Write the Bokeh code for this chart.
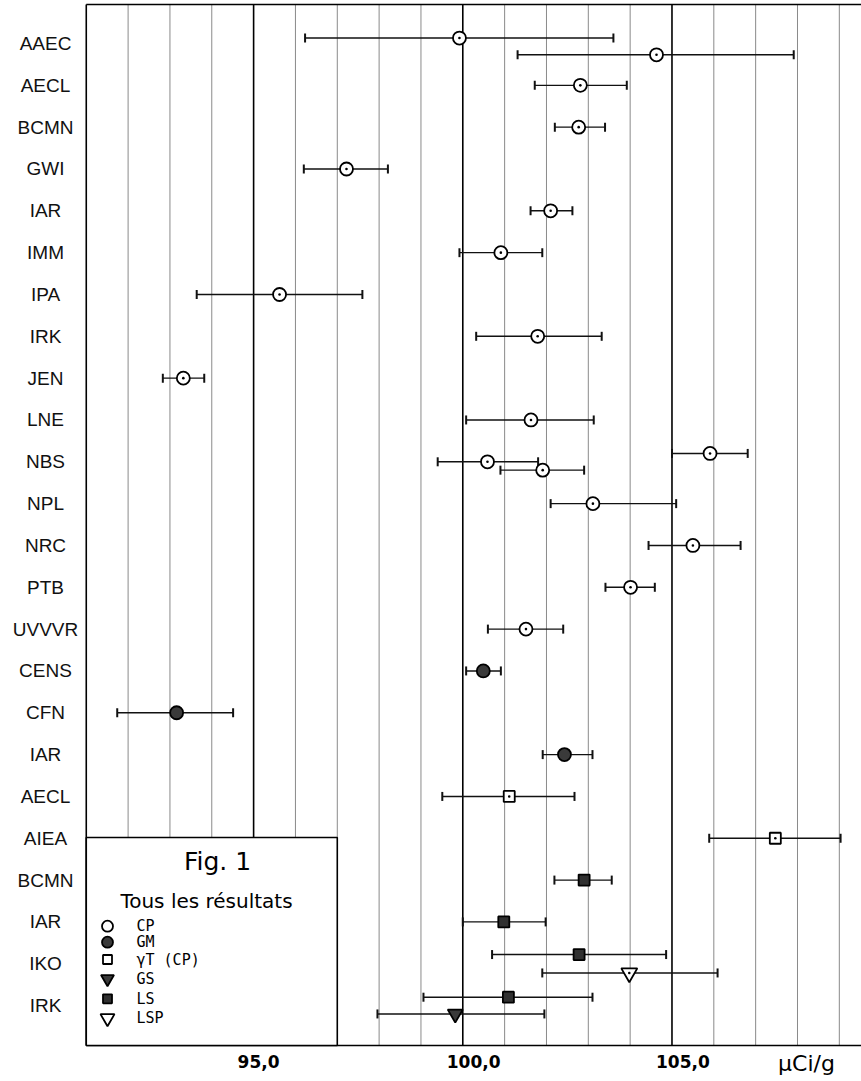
import numpy as np
from bokeh.plotting import figure
from bokeh.models import ColumnDataSource, Range1d
from bokeh.core.properties import value
from bokeh.embed import file_html
from bokeh.resources import INLINE

# Laboratories, one row each, top to bottom
labs = ["AAEC", "AECL", "BCMN", "GWI", "IAR", "IMM", "IPA", "IRK", "JEN", "LNE",
        "NBS", "NPL", "NRC", "PTB", "UVVVR", "CENS", "CFN", "IAR", "AECL", "AIEA",
        "BCMN", "IAR", "IKO", "IRK"]

# Results (µCi/g): row index, method, value, lower and upper limits
res_row = [0, 0, 1, 2, 3, 4, 5, 6, 7, 8, 9, 10, 10, 10, 11, 12, 13, 14,
           15, 16, 17, 18, 19, 20, 21, 22, 22, 23, 23]
res_dodge = [-0.13, 0.27, 0, 0, 0, 0, 0, 0, 0, 0, 0, 0, 0.2, -0.2, 0, 0, 0, 0,
             0, 0, 0, 0, 0, 0, 0, -0.22, 0.22, -0.2, 0.2]
res_method = ["CP"] * 18 + ["GM"] * 3 + ["γT"] * 2 + ["LS", "LS", "LS", "LSP", "LS", "GS"]
res_value = [99.92, 104.63, 102.81, 102.77, 97.22, 102.10, 100.91, 95.62, 101.79, 93.32,
             101.63, 100.59, 101.91, 105.91, 103.11, 105.50, 104.01, 101.51,
             100.49, 93.16, 102.43, 101.11, 107.47,
             102.90, 100.98, 102.78, 103.98, 101.09, 99.82]
res_low = [96.23, 101.31, 101.72, 102.20, 96.20, 101.62, 99.92, 93.64, 100.32, 92.83,
           100.08, 99.40, 100.90, 105.00, 102.10, 104.44, 103.41, 100.60,
           100.08, 91.74, 101.91, 99.51, 105.89,
           102.19, 100.00, 100.70, 101.90, 99.06, 97.96]
res_high = [103.60, 107.91, 103.92, 103.40, 98.21, 102.62, 101.90, 97.60, 103.32, 93.82,
            103.13, 101.80, 102.90, 106.81, 105.10, 106.64, 104.59, 102.40,
            100.91, 94.51, 103.10, 102.67, 109.03,
            103.56, 101.98, 104.86, 106.09, 103.10, 101.95]

# Axis
tick_values = [95.0, 100.0, 105.0]
tick_labels = ["95,0", "100,0", "105,0"]
major_lines = [95, 100, 105]
minor_lines = [92, 93, 94, 96, 97, 98, 99, 101, 102, 103, 104, 106, 107, 108, 109]
x_min = 91.0

# Legend entries
legend_methods = ["CP", "GM", "γT", "GS", "LS", "LSP"]
legend_texts = ["CP", "GM", "γT (CP)", "GS", "LS", "LSP"]

# Marker style per method: marker, size, fill, centre dot
STYLE = {
    "CP":  ("circle", 13, "white", True),
    "GM":  ("circle", 13, "#3a3a3a", False),
    "γT":  ("square", 11, "white", True),
    "LS":  ("square", 11, "#303030", False),
    "LSP": ("inverted_triangle", 16, "white", True),
    "GS":  ("inverted_triangle", 15, "#3a3a3a", False),
}

W, H = 861, 1081
X0, X1 = 88.95, 109.53          # value range across the canvas width
YT, YB = -1.028, 24.815         # row coordinate at top / bottom of the canvas


def px(xp):
    return X0 + xp * (X1 - X0) / W


def py(yp):
    return YT + yp * (YB - YT) / H


p = figure(width=W, height=H, x_range=Range1d(X0, X1), y_range=Range1d(YB, YT),
           x_axis_type=None, y_axis_type=None, output_backend="svg",
           toolbar_location=None, min_border=0, outline_line_color=None,
           background_fill_color="white", border_fill_color="white")

top, bottom = py(4), py(1045)

# vertical grid
p.segment(x0=minor_lines, y0=[top] * len(minor_lines), x1=minor_lines,
          y1=[bottom] * len(minor_lines), line_color="#8a8a8a", line_width=1)
p.segment(x0=major_lines, y0=[top] * len(major_lines), x1=major_lines,
          y1=[bottom] * len(major_lines), line_color="black", line_width=1.6)

# frame
p.segment(x0=[x_min, x_min, x_min], y0=[top, bottom, top],
          x1=[X1, X1, x_min], y1=[top, bottom, bottom],
          line_color="black", line_width=1.6)

# legend panel
p.quad(left=[x_min], right=[97.0], top=[py(837)], bottom=[bottom],
       fill_color="white", line_color="black", line_width=1.6)

# row labels
p.text(x=[px(45)] * len(labs), y=list(range(len(labs))), text=labs,
       text_align="center", text_baseline="middle",
       text_font=value("Liberation Sans"), text_font_size="19px", text_color="#111111")

# results
ys = [r + d for r, d in zip(res_row, res_dodge)]
src = ColumnDataSource(dict(y=ys, v=res_value, lo=res_low, hi=res_high, m=res_method))
p.segment(x0="lo", y0="y", x1="hi", y1="y", source=src, line_color="#111111", line_width=1.4)
p.scatter(x="lo", y="y", source=src, marker="dash", angle=np.pi / 2, size=9,
          line_color="#111111", line_width=2)
p.scatter(x="hi", y="y", source=src, marker="dash", angle=np.pi / 2, size=9,
          line_color="#111111", line_width=2)

for meth, (mk, sz, fc, dot) in STYLE.items():
    idx = [i for i, m in enumerate(res_method) if m == meth]
    if not idx:
        continue
    xs = [res_value[i] for i in idx]
    yy = [ys[i] for i in idx]
    p.scatter(x=xs, y=yy, marker=mk, size=sz, fill_color=fc,
              line_color="black", line_width=1.8)
    if dot:
        p.scatter(x=xs, y=yy, marker="circle", size=2.6,
                  fill_color="black", line_color=None)

# legend contents
p.text(x=[px(217)], y=[py(861)], text=["Fig. 1"], text_align="center",
       text_baseline="middle", text_font=value("DejaVu Sans"), text_font_size="25px")
p.text(x=[px(206)], y=[py(900)], text=["Tous les résultats"], text_align="center",
       text_baseline="middle", text_font=value("DejaVu Sans"), text_font_size="20px")

leg_y = [py(v) for v in (925.7, 941.7, 959.0, 978.3, 998.3, 1017.7)]
for meth, yy in zip(legend_methods, leg_y):
    mk, sz, fc, dot = STYLE[meth]
    p.scatter(x=[px(107)], y=[yy], marker=mk, size=sz - 2, fill_color=fc,
              line_color="black", line_width=1.8)
p.text(x=[px(136)] * len(legend_texts), y=leg_y, text=legend_texts,
       text_align="left", text_baseline="middle",
       text_font=value("DejaVu Sans Mono"), text_font_size="15px")

# axis tick labels and unit
p.text(x=tick_values, y=[py(1061)] * len(tick_values), text=tick_labels,
       x_offset=-16, text_align="left", text_baseline="middle",
       text_font=value("DejaVu Sans"), text_font_style="bold", text_font_size="17px")
p.text(x=[px(806)], y=[py(1063)], text=["µCi/g"], text_align="center",
       text_baseline="middle", text_font=value("DejaVu Sans"), text_font_size="22px")

open("out.html", "w").write(file_html(p, INLINE))
